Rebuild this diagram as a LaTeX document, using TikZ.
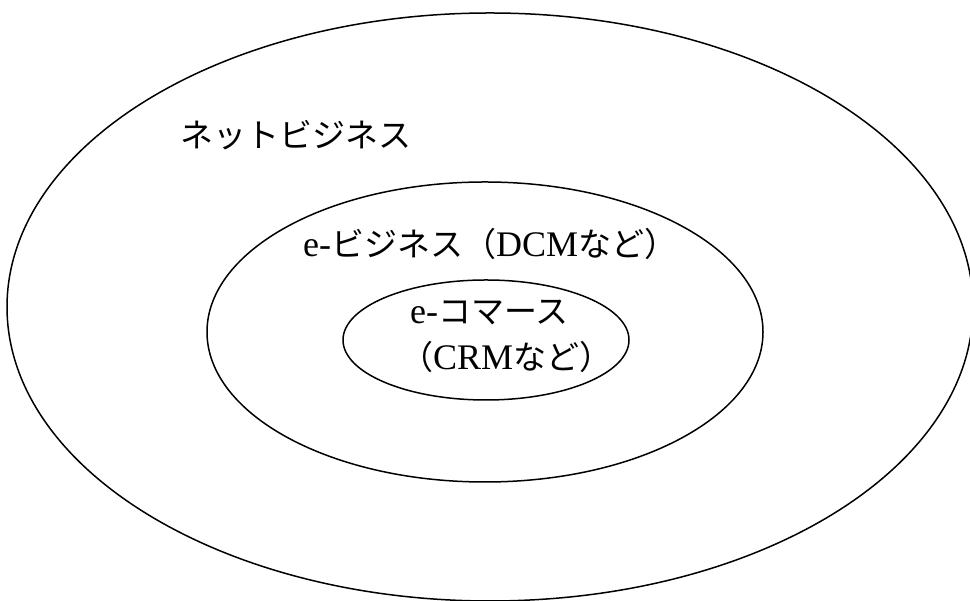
\documentclass[tikz,border=0pt]{standalone}
\usepackage{fontspec}
\setmainfont{Liberation Serif}
\newfontfamily\jp{Noto Sans CJK JP}
\usetikzlibrary{shapes.geometric}
\newcommand{\latn}[1]{{\fontsize{36}{40}\selectfont #1}}
\tikzset{
  ring/.style={ellipse, draw, line width=1.5pt, inner sep=0pt},
  lab/.style={anchor=west, inner sep=0pt, font=\fontsize{33}{38}\selectfont}
}
\begin{document}
\begin{tikzpicture}[x=1pt,y=1pt]
\useasboundingbox (0,0) rectangle (970,601);
\clip (0,0) rectangle (970,601);
\node[ring, minimum width=966pt, minimum height=588pt] (outer) at (490,294) {};
\node[ring, minimum width=556pt, minimum height=300pt] (middle) at (485,269) {};
\node[ring, minimum width=286pt, minimum height=120pt] (inner) at (486,261) {};
\node[lab] (net) at (180,466) {\jp ネットビジネス};
\node[lab] (eb) at (303,357) {\latn{e-}{\jp ビジネス（}\latn{DCM}{\jp など）}};
\node[lab] (ec) at (410,288) {\latn{e-}{\jp コマース}};
\node[lab] (crm) at (400,244) {{\jp （}\latn{CRM}{\jp など）}};
\end{tikzpicture}
\end{document}
